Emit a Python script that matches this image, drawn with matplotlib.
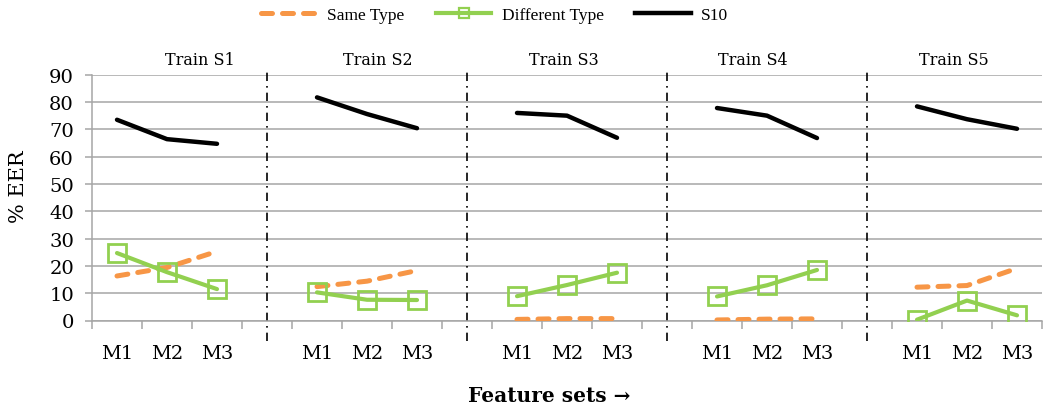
import matplotlib
matplotlib.use("Agg")
import matplotlib.pyplot as plt
from matplotlib.lines import Line2D
from matplotlib.ticker import FixedLocator

# ---- data -------------------------------------------------------------
feature_sets = ["M1", "M2", "M3"]
train_sets = ["Train S1", "Train S2", "Train S3", "Train S4", "Train S5"]
series_names = ["Same Type", "Different Type", "S10"]

same_type = [[16.3, 19.4, 25.3],
             [12.4, 14.4, 18.3],
             [0.4, 0.7, 0.7],
             [0.2, 0.5, 0.6],
             [12.2, 12.8, 19.1]]
different_type = [[24.7, 17.7, 11.5],
                  [10.3, 7.6, 7.5],
                  [8.9, 13.0, 17.5],
                  [8.8, 12.9, 18.5],
                  [0.3, 7.3, 1.9]]
s10 = [[73.5, 66.4, 64.7],
       [81.7, 75.6, 70.4],
       [76.0, 75.0, 66.9],
       [77.8, 75.0, 66.8],
       [78.4, 73.7, 70.2]]

y_ticks = [0, 10, 20, 30, 40, 50, 60, 70, 80, 90]

# ---- style ------------------------------------------------------------
ORANGE = "#F79646"
GREEN = "#92D050"
GRID = "#a6a6a6"
SERIF = ["DejaVu Serif"]

plt.rcParams["font.family"] = SERIF

fig = plt.figure(figsize=(10.48, 4.10), dpi=100)
ax = fig.add_axes([92 / 1048, 1 - 321.5 / 410, 950 / 1048, 245.8 / 410])

n_feat = len(feature_sets)
slot = n_feat + 1                      # three categories plus a gap per group
n_cat = slot * len(train_sets) - 1

# ---- series -----------------------------------------------------------
for g in range(len(train_sets)):
    xs = [g * slot + i for i in range(n_feat)]
    ax.plot(xs, same_type[g], color=ORANGE, lw=3.6,
            linestyle=(0, (2.2, 2.0)), dash_capstyle="round",
            solid_capstyle="round", zorder=3)
    ax.plot(xs, different_type[g], color=GREEN, lw=3.0,
            marker="s", markersize=12.5, markerfacecolor="none",
            markeredgewidth=2.0, markeredgecolor=GREEN,
            solid_capstyle="round", zorder=4)
    ax.plot(xs, s10[g], color="black", lw=3.2,
            solid_capstyle="round", solid_joinstyle="round", zorder=5)

# ---- axes -------------------------------------------------------------
ax.set_xlim(-0.5, n_cat - 0.5)
ax.set_ylim(0, 90)

ax.set_yticks(y_ticks)
ax.yaxis.grid(True, color=GRID, lw=1.1)
ax.set_axisbelow(True)
ax.tick_params(axis="y", direction="out", length=5, width=1.1,
               color=GRID, labelsize=14, pad=8)

centers = [g * slot + i for g in range(len(train_sets)) for i in range(n_feat)]
ax.set_xticks(centers)
ax.set_xticklabels(feature_sets * len(train_sets))
ax.xaxis.set_minor_locator(FixedLocator([k - 0.5 for k in range(n_cat + 1)]))
ax.tick_params(axis="x", which="major", length=0, labelsize=14, pad=17)
ax.tick_params(axis="x", which="minor", direction="out", length=6,
               width=1.1, color=GRID)

for side in ("top", "right"):
    ax.spines[side].set_visible(False)
for side in ("left", "bottom"):
    ax.spines[side].set_color(GRID)
    ax.spines[side].set_linewidth(1.1)

# group separators
for g in range(1, len(train_sets)):
    ax.axvline(g * slot - 1, ymin=-0.083, ymax=1.016, clip_on=False,
               color="black", lw=1.2, linestyle=(0, (5, 3, 1, 3)), zorder=2)

# group titles
title_shift = [0.66, 0.22, -0.06, -0.28, -0.26]
for g, name in enumerate(train_sets):
    ax.text(g * slot + 1 + title_shift[g], 1.06, name,
            transform=ax.get_xaxis_transform(), ha="center", va="center",
            fontsize=11.5)

fig.text(18 / 1048, 1 - 187 / 410, "% EER", rotation=90,
         ha="center", va="center", fontsize=15)
fig.text(549 / 1048, 1 - 396 / 410, "Feature sets \u2192",
         ha="center", va="center", fontsize=14.5, fontweight="bold")

handles = [
    Line2D([], [], color=ORANGE, lw=3.6, linestyle=(0, (2.2, 2.0)),
           dash_capstyle="round"),
    Line2D([], [], color=GREEN, lw=3.0, marker="s", markersize=7,
           markerfacecolor="none", markeredgewidth=1.6),
    Line2D([], [], color="black", lw=3.2),
]
fig.legend(handles, series_names, loc="center", ncol=3,
           bbox_to_anchor=(0.472, 0.962), frameon=False, handlelength=3.2,
           handletextpad=0.6, columnspacing=1.8, numpoints=1,
           prop={"family": "Liberation Serif", "size": 12.5})

fig.savefig("out.png", dpi=100)
